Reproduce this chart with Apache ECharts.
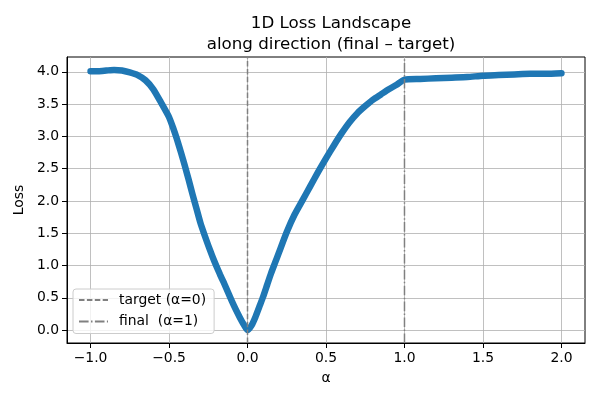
<!DOCTYPE html>
<html>
<head>
<meta charset="utf-8">
<script src="https://cdn.jsdelivr.net/npm/echarts@6/dist/echarts.min.js"></script>
<style>
  html, body { margin: 0; padding: 0; background: #fff; }
  #chart { width: 600px; height: 400px; }
</style>
</head>
<body>
<div id="chart"></div>
<script>
// values
var alpha = [-1.0, -0.95, -0.9, -0.85, -0.8, -0.75, -0.7, -0.65, -0.6, -0.55,
             -0.5, -0.475, -0.45, -0.425, -0.4, -0.375, -0.35, -0.325, -0.3, -0.275,
             -0.25, -0.225, -0.2, -0.175, -0.15, -0.125, -0.1, -0.075, -0.05, -0.025,
             0.0, 0.025, 0.05, 0.075, 0.1, 0.125, 0.15, 0.175, 0.2, 0.25, 0.3,
             0.35, 0.4, 0.45, 0.5, 0.55, 0.6, 0.65, 0.7, 0.75, 0.8, 0.85, 0.9, 0.95, 1.0,
             1.1, 1.2, 1.3, 1.4, 1.5, 1.6, 1.7, 1.8, 1.9, 2.0];
var loss = [4.01, 4.01, 4.02, 4.03, 4.02, 3.99, 3.95, 3.87, 3.73, 3.52,
            3.30, 3.14, 2.96, 2.76, 2.55, 2.33, 2.10, 1.88, 1.66, 1.48,
            1.31, 1.15, 1.00, 0.86, 0.73, 0.59, 0.45, 0.32, 0.20, 0.09,
            0.0, 0.07, 0.20, 0.36, 0.52, 0.70, 0.88, 1.04, 1.20, 1.52, 1.79,
            2.01, 2.23, 2.45, 2.66, 2.86, 3.05, 3.22, 3.36, 3.47, 3.57, 3.65, 3.73, 3.80, 3.88,
            3.89, 3.90, 3.91, 3.92, 3.94, 3.95, 3.96, 3.97, 3.97, 3.98];
var xTicks = [-1.0, -0.5, 0.0, 0.5, 1.0, 1.5, 2.0];
var yTicks = [0.0, 0.5, 1.0, 1.5, 2.0, 2.5, 3.0, 3.5, 4.0];
var refNames = ['target (\u03b1=0)', 'final  (\u03b1=1)'];
var refAlpha = [0, 1];

var xMin = -1.15, xMax = 2.15, yMin = -0.2, yMax = 4.23;
var font = 'DejaVu Sans';

var points = alpha.map(function (a, i) { return [a, loss[i]]; });

var myChart = echarts.init(document.getElementById('chart'));
var option = {
  animation: false,
  title: {
    text: '1D Loss Landscape\nalong direction (final \u2013 target)',
    left: 326,
    textAlign: 'center',
    top: 8,
    textStyle: { fontFamily: font, fontSize: 16.7, fontWeight: 'normal', color: '#000', lineHeight: 21 }
  },
  legend: {
    orient: 'vertical',
    left: 73,
    top: 289,
    padding: [4, 8, 5, 5],
    itemGap: 7.5,
    itemWidth: 29,
    itemHeight: 14,
    backgroundColor: 'rgba(255,255,255,0.8)',
    borderColor: '#cccccc',
    borderWidth: 1,
    borderRadius: 3,
    itemStyle: { opacity: 0, borderWidth: 0 },
    formatter: '{t|{name}}',
    textStyle: {
      fontFamily: font, fontSize: 13.9, color: '#000',
      rich: { t: { fontFamily: font, fontSize: 13.9, color: '#000', padding: [0, 0, 0, 6] } }
    },
    data: refNames
  },
  grid: {
    left: 67, right: 15, top: 57, bottom: 57,
    show: true, borderColor: '#000', borderWidth: 1
  },
  xAxis: {
    type: 'value',
    min: xMin, max: xMax,
    name: '\u03b1',
    nameLocation: 'middle',
    nameGap: 28,
    nameTextStyle: { fontFamily: font, fontSize: 13.9, color: '#000' },
    axisLine: { show: true, onZero: false, lineStyle: { color: '#000', width: 1 } },
    axisTick: { show: true, inside: false, length: 5, customValues: xTicks, lineStyle: { color: '#000' } },
    axisLabel: {
      customValues: xTicks, margin: 8,
      fontFamily: font, fontSize: 13.9, color: '#000',
      formatter: function (v) { return v.toFixed(1).replace('-', '\u2212'); }
    },
    splitLine: { show: true, customValues: xTicks, lineStyle: { color: '#b0b0b0', width: 0.8 } }
  },
  yAxis: {
    type: 'value',
    min: yMin, max: yMax,
    name: 'Loss',
    nameLocation: 'middle',
    nameGap: 37,
    nameTextStyle: { fontFamily: font, fontSize: 13.9, color: '#000' },
    axisLine: { show: true, onZero: false, lineStyle: { color: '#000', width: 1 } },
    axisTick: { show: true, inside: false, length: 5, customValues: yTicks, lineStyle: { color: '#000' } },
    axisLabel: {
      customValues: yTicks, margin: 8,
      fontFamily: font, fontSize: 13.9, color: '#000',
      formatter: function (v) { return v.toFixed(1); }
    },
    splitLine: { show: true, customValues: yTicks, lineStyle: { color: '#b0b0b0', width: 0.8 } }
  },
  series: [
    {
      name: 'loss',
      type: 'line',
      data: points,
      smooth: 0.2,
      symbol: 'none',
      lineStyle: { color: '#1f77b4', width: 6.5, cap: 'round', join: 'round' },
      z: 3
    },
    {
      name: refNames[0],
      type: 'line',
      data: [[refAlpha[0], yMin], [refAlpha[0], yMax]],
      symbol: 'none',
      color: '#808080',
      lineStyle: { color: '#808080', width: 1.5, type: [5.5, 2.4] },
      z: 4
    },
    {
      name: refNames[1],
      type: 'line',
      data: [[refAlpha[1], yMin], [refAlpha[1], yMax]],
      symbol: 'none',
      color: '#808080',
      lineStyle: { color: '#808080', width: 1.5, type: [9.6, 2.4, 1.5, 2.4] },
      z: 4
    }
  ]
};
myChart.setOption(option);
</script>
</body>
</html>
